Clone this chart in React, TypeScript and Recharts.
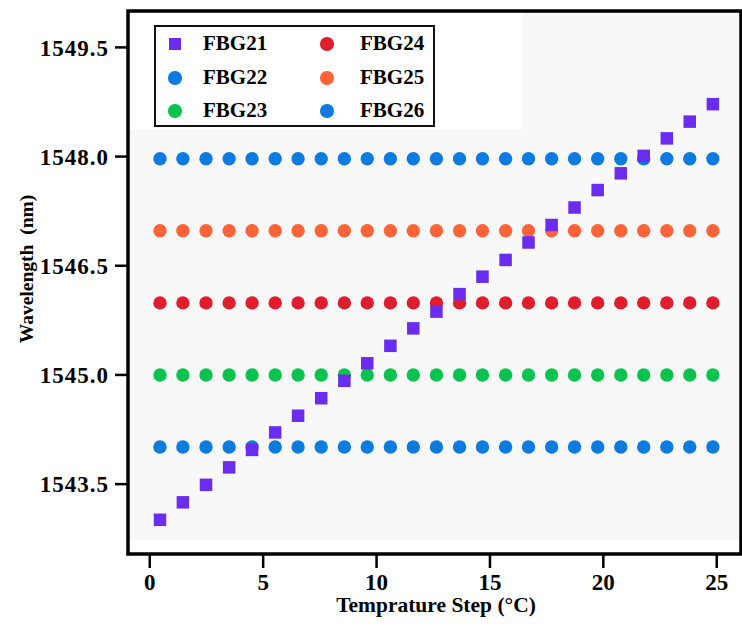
import React from 'react';
import { ScatterChart, Scatter, XAxis, YAxis, ReferenceArea, Label } from 'recharts';

// ---------- data ----------
const steps = [0.45, 1.46, 2.48, 3.5, 4.51, 5.53, 6.54, 7.56, 8.58, 9.59, 10.61, 11.62, 12.64, 13.66, 14.67, 15.69, 16.7, 17.72, 18.73, 19.75, 20.77, 21.78, 22.8, 23.81, 24.83];

const fbg21 = [1543.01, 1543.25, 1543.49, 1543.73, 1543.97, 1544.21, 1544.44, 1544.68, 1544.92, 1545.16, 1545.4, 1545.64, 1545.87, 1546.11, 1546.35, 1546.58, 1546.82, 1547.06, 1547.3, 1547.54, 1547.77, 1548.01, 1548.25, 1548.48, 1548.72];
const fbg22 = [1544.01, 1544.01, 1544.01, 1544.01, 1544.01, 1544.01, 1544.01, 1544.01, 1544.01, 1544.01, 1544.01, 1544.01, 1544.01, 1544.01, 1544.01, 1544.01, 1544.01, 1544.01, 1544.01, 1544.01, 1544.01, 1544.01, 1544.01, 1544.01, 1544.01];
const fbg23 = [1545.0, 1545.0, 1545.0, 1545.0, 1545.0, 1545.0, 1545.0, 1545.0, 1545.0, 1545.0, 1545.0, 1545.0, 1545.0, 1545.0, 1545.0, 1545.0, 1545.0, 1545.0, 1545.0, 1545.0, 1545.0, 1545.0, 1545.0, 1545.0, 1545.0];
const fbg24 = [1545.99, 1545.99, 1545.99, 1545.99, 1545.99, 1545.99, 1545.99, 1545.99, 1545.99, 1545.99, 1545.99, 1545.99, 1545.99, 1545.99, 1545.99, 1545.99, 1545.99, 1545.99, 1545.99, 1545.99, 1545.99, 1545.99, 1545.99, 1545.99, 1545.99];
const fbg25 = [1546.98, 1546.98, 1546.98, 1546.98, 1546.98, 1546.98, 1546.98, 1546.98, 1546.98, 1546.98, 1546.98, 1546.98, 1546.98, 1546.98, 1546.98, 1546.98, 1546.98, 1546.98, 1546.98, 1546.98, 1546.98, 1546.98, 1546.98, 1546.98, 1546.98];
const fbg26 = [1547.97, 1547.97, 1547.97, 1547.97, 1547.97, 1547.97, 1547.97, 1547.97, 1547.97, 1547.97, 1547.97, 1547.97, 1547.97, 1547.97, 1547.97, 1547.97, 1547.97, 1547.97, 1547.97, 1547.97, 1547.97, 1547.97, 1547.97, 1547.97, 1547.97];

const seriesNames = ['FBG21', 'FBG22', 'FBG23', 'FBG24', 'FBG25', 'FBG26'];
const seriesValues = [fbg21, fbg22, fbg23, fbg24, fbg25, fbg26];

const xTicks = [0, 5, 10, 15, 20, 25];
const yTicks = [1543.5, 1545.0, 1546.5, 1548.0, 1549.5];

const xTitle = 'Temprature Step (°C)';
const yTitle = 'Wavelength\u00a0\u00a0(nm)';

// ---------- styles ----------
const FONT = '"Liberation Serif", "Times New Roman", serif';
const COLORS: Record<string, string> = {
  FBG21: '#6a2cee',
  FBG22: '#0b7be0',
  FBG23: '#08c44e',
  FBG24: '#e01d2c',
  FBG25: '#ff6438',
  FBG26: '#0b7be0',
};
const SHAPES: Record<string, 'square' | 'circle'> = {
  FBG21: 'square', FBG22: 'circle', FBG23: 'circle', FBG24: 'circle', FBG25: 'circle', FBG26: 'circle',
};
const SQUARE_SIDE = 12.5;
const CIRCLE_R = 6.7;

const W = 742;
const H = 627;
const X_MIN = -0.96;
const X_MAX = 26.07;
const Y_MIN = 1542.54;
const Y_MAX = 1550.0;

const seriesData = seriesNames.map((name, si) => ({
  name,
  data: steps.map((x, i) => ({ x, y: seriesValues[si][i] })),
}));

// draw circles first, squares on top
const drawOrder = ['FBG22', 'FBG23', 'FBG24', 'FBG25', 'FBG26', 'FBG21'];

// legend layout: two columns
const legendCols = [['FBG21', 'FBG22', 'FBG23'], ['FBG24', 'FBG25', 'FBG26']];

function makeShape(name: string) {
  const color = COLORS[name];
  if (SHAPES[name] === 'square') {
    return (p: any) => (
      <rect
        x={p.cx - SQUARE_SIDE / 2}
        y={p.cy - SQUARE_SIDE / 2}
        width={SQUARE_SIDE}
        height={SQUARE_SIDE}
        fill={color}
      />
    );
  }
  return (p: any) => <circle cx={p.cx} cy={p.cy} r={CIRCLE_R} fill={color} />;
}

function LegendBox() {
  const rowY = [17, 51, 84];
  const markX = [19, 171];
  const textX = [47, 204];
  return (
    <div
      style={{
        position: 'absolute',
        left: 154,
        top: 25,
        width: 281,
        height: 102,
        boxSizing: 'border-box',
        border: '2px solid #111',
        background: '#fff',
        fontFamily: FONT,
        fontWeight: 'bold',
        fontSize: 21,
        color: '#000',
      }}
    >
      {legendCols.map((col, ci) =>
        col.map((name, ri) => {
          const sq = SHAPES[name] === 'square';
          const s = sq ? SQUARE_SIDE : CIRCLE_R * 2;
          return (
            <React.Fragment key={name}>
              <div
                style={{
                  position: 'absolute',
                  left: markX[ci] - s / 2,
                  top: rowY[ri] - s / 2,
                  width: s,
                  height: s,
                  background: COLORS[name],
                  borderRadius: sq ? 0 : '50%',
                }}
              />
              <div
                style={{
                  position: 'absolute',
                  left: textX[ci],
                  top: rowY[ri] - 11,
                  lineHeight: '21px',
                  whiteSpace: 'nowrap',
                }}
              >
                {name}
              </div>
            </React.Fragment>
          );
        })
      )}
    </div>
  );
}

export default function App() {
  return (
    <div style={{ position: 'absolute', left: 0, top: 0, width: W, height: H, background: '#fff' }}>
      <ScatterChart width={W} height={H} margin={{ top: 11, right: 1, bottom: 13, left: 28 }}>
        <XAxis
          type="number"
          dataKey="x"
          domain={[X_MIN, X_MAX]}
          ticks={xTicks}
          allowDataOverflow
          axisLine={false}
          tickLine={{ stroke: '#000', strokeWidth: 2.5 }}
          tickSize={14}
          tickMargin={6}
          height={60}
          tick={{ fill: '#000', fontSize: 23, fontWeight: 'bold', fontFamily: FONT }}
        >
          <Label
            content={() => (
              <text
                x={436}
                y={612}
                textAnchor="middle"
                fill="#000"
                fontSize={21.5}
                fontWeight="bold"
                fontFamily={FONT}
              >
                {xTitle}
              </text>
            )}
          />
        </XAxis>
        <YAxis
          type="number"
          dataKey="y"
          domain={[Y_MIN, Y_MAX]}
          ticks={yTicks}
          allowDataOverflow
          axisLine={false}
          width={100}
          tickLine={{ stroke: '#000', strokeWidth: 2.5 }}
          tickSize={13}
          tickMargin={6}
          tickFormatter={(v: number) => v.toFixed(1)}
          tick={{ fill: '#000', fontSize: 23, fontWeight: 'bold', fontFamily: FONT, letterSpacing: 1 }}
        >
          <Label
            content={() => (
              <text
                x={26}
                y={269}
                transform="rotate(-90 26 269)"
                textAnchor="middle"
                dominantBaseline="central"
                fill="#000"
                fontSize={19.5}
                fontWeight="bold"
                fontFamily={FONT}
              >
                {yTitle}
              </text>
            )}
          />
        </YAxis>
        <ReferenceArea
          x1={X_MIN}
          x2={X_MAX}
          y1={1542.73}
          y2={Y_MAX}
          fill="#f8f8f8"
          fillOpacity={1}
          stroke="none"
          ifOverflow="visible"
        />
        <ReferenceArea
          x1={X_MIN}
          x2={16.41}
          y1={1548.37}
          y2={Y_MAX}
          fill="#ffffff"
          fillOpacity={1}
          stroke="none"
          ifOverflow="visible"
        />
        {drawOrder.map((name) => {
          const s = seriesData.find((d) => d.name === name)!;
          return (
            <Scatter
              key={name}
              name={name}
              data={s.data}
              fill={COLORS[name]}
              shape={makeShape(name)}
              isAnimationActive={false}
            />
          );
        })}
        <ReferenceArea
          x1={X_MIN}
          x2={X_MAX}
          y1={Y_MIN}
          y2={Y_MAX}
          fill="none"
          stroke="#000"
          strokeWidth={3.5}
          ifOverflow="visible"
        />
      </ScatterChart>
      <LegendBox />
    </div>
  );
}
